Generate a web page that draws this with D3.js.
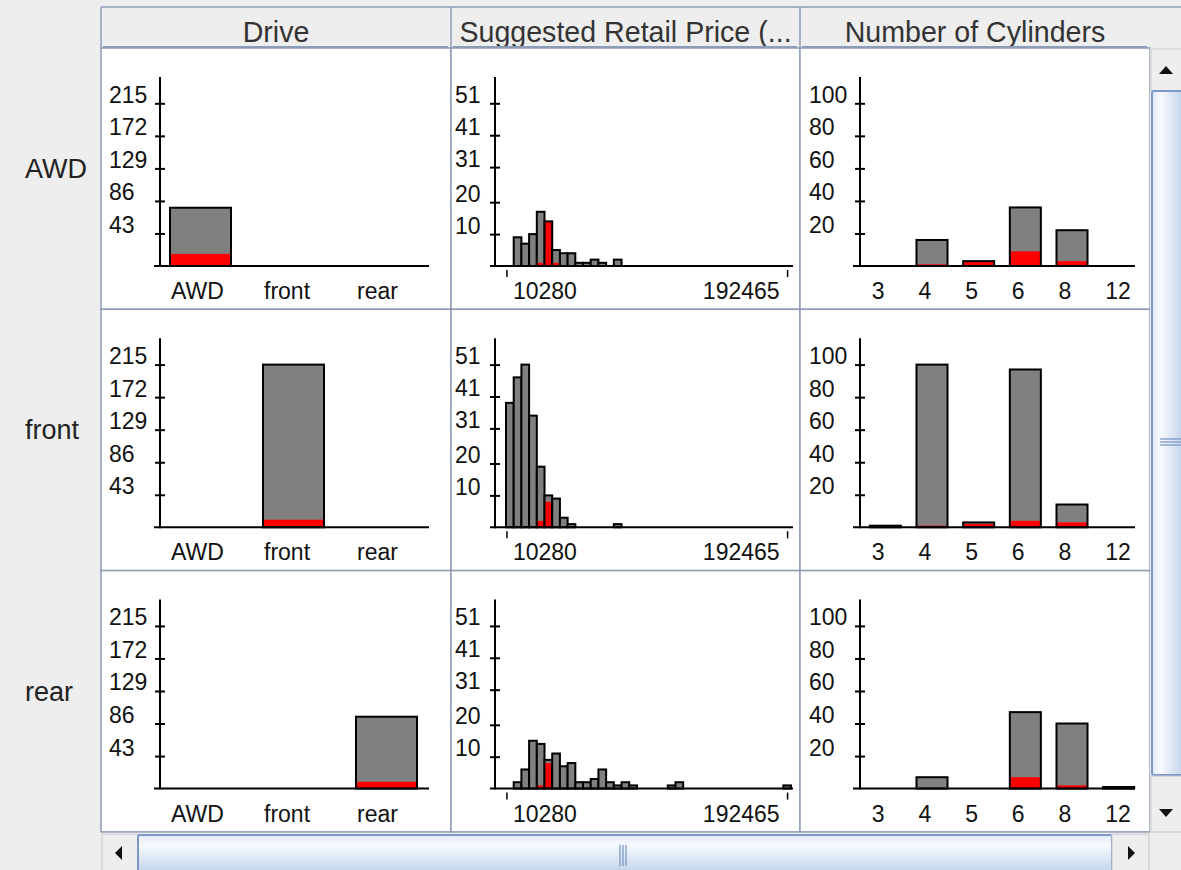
<!DOCTYPE html>
<html><head><meta charset="utf-8">
<script src="https://cdn.jsdelivr.net/npm/d3@7"></script>
<style>body{margin:0;background:#eeeeee;} svg{display:block;font-family:"Liberation Sans",Arial,sans-serif;}</style>
</head><body><svg id="c" width="1181" height="870"></svg>
<script>
// ---------------- data ----------------
const rowNames = ["AWD", "front", "rear"];
const columnTitles = ["Drive", "Suggested Retail Price (...", "Number of Cylinders"];

const driveCats = ["AWD", "front", "rear"];
const driveTotals = [77, 215, 95];
const driveRed = [16, 10, 9];
const driveYTicks = [43, 86, 129, 172, 215];
const driveYMax = 215;

const priceYTicks = [10, 20, 31, 41, 51];
const priceYMax = 51;
const priceXTicks = [10280, 192465];
const priceBinLow = 10000;
const priceBinWidth = 5000;
const priceAWD      = [0,9,7,10,17,14,5,4,4,1,1,2,1,0,2,0,0,0,0,0,0,0,0,0,0,0,0,0,0,0,0,0,0,0,0,0,0];
const priceAWDRed   = [0,0,0,0,1,14,1,0,0,0,0,0,0,0,0,0,0,0,0,0,0,0,0,0,0,0,0,0,0,0,0,0,0,0,0,0,0];
const priceFront    = [39,47,51,35,19,10,9,3,1,0,0,0,0,0,1,0,0,0,0,0,0,0,0,0,0,0,0,0,0,0,0,0,0,0,0,0,0];
const priceFrontRed = [0,0,0,0,2,8,0,0,0,0,0,0,0,0,0,0,0,0,0,0,0,0,0,0,0,0,0,0,0,0,0,0,0,0,0,0,0];
const priceRear     = [0,2,6,15,14,9,11,7,8,2,2,3,6,2,1,2,1,0,0,0,0,1,2,0,0,0,0,0,0,0,0,0,0,0,0,0,1];
const priceRearRed  = [0,0,0,0,1,8,0,0,0,0,0,0,0,0,0,0,0,0,0,0,0,0,0,0,0,0,0,0,0,0,0,0,0,0,0,0,0];

const cylCats = ["3", "4", "5", "6", "8", "12"];
const cylYTicks = [20, 40, 60, 80, 100];
const cylYMax = 100;
const cylAWD      = [0, 16, 3, 36, 22, 0];
const cylAWDRed   = [0, 1, 3, 9, 3, 0];
const cylFront    = [1, 100, 3, 97, 14, 0];
const cylFrontRed = [0, 1, 2, 4, 3, 0];
const cylRear     = [0, 7, 0, 47, 40, 1];
const cylRearRed  = [0, 0, 0, 7, 2, 0];

const priceRows = [[priceAWD, priceAWDRed], [priceFront, priceFrontRed], [priceRear, priceRearRed]];
const cylRows = [[cylAWD, cylAWDRed], [cylFront, cylFrontRed], [cylRear, cylRearRed]];

// ---------------- layout ----------------
const W = 1181, H = 870;
const colX = [101, 451, 800, 1150];
const headerTop = 7, headerBottom = 48, rowH = 261.3;
const gridColor = "#8d9cb6";
const svg = d3.select("#c");

const defs = svg.append("defs");
const gv = defs.append("linearGradient").attr("id", "gv").attr("x1", 0).attr("x2", 1).attr("y1", 0).attr("y2", 0);
gv.append("stop").attr("offset", "0").attr("stop-color", "#dfe9f5");
gv.append("stop").attr("offset", "0.25").attr("stop-color", "#f7faff");
gv.append("stop").attr("offset", "1").attr("stop-color", "#bccfe6");
const gh = defs.append("linearGradient").attr("id", "gh").attr("x1", 0).attr("x2", 0).attr("y1", 0).attr("y2", 1);
gh.append("stop").attr("offset", "0").attr("stop-color", "#dfe9f5");
gh.append("stop").attr("offset", "0.25").attr("stop-color", "#f7faff");
gh.append("stop").attr("offset", "1").attr("stop-color", "#bccfe6");

svg.append("rect").attr("width", W).attr("height", H).attr("fill", "#eeeeee");

// header
svg.append("line").attr("x1", colX[0]).attr("x2", W).attr("y1", headerTop).attr("y2", headerTop)
  .attr("stroke", gridColor).attr("stroke-width", 1.5);
svg.append("line").attr("x1", colX[0]).attr("x2", colX[0]).attr("y1", headerTop).attr("y2", headerBottom)
  .attr("stroke", gridColor).attr("stroke-width", 1.5);
columnTitles.forEach((t, c) => {
  svg.append("text").attr("x", (colX[c] + colX[c + 1]) / 2).attr("y", 42).attr("text-anchor", "middle")
    .attr("font-size", 28.6).attr("fill", "#333").text(t);
  if (c > 0) svg.append("line").attr("x1", colX[c]).attr("x2", colX[c]).attr("y1", headerTop).attr("y2", headerBottom)
    .attr("stroke", gridColor).attr("stroke-width", 1.5);
  svg.append("line").attr("x1", colX[c] + 2).attr("x2", colX[c + 1] - 3).attr("y1", headerBottom - 1).attr("y2", headerBottom - 1)
    .attr("stroke", gridColor).attr("stroke-width", 2);
});

// cells
for (let r = 0; r < 3; r++) {
  for (let c = 0; c < 3; c++) {
    svg.append("rect").attr("x", colX[c]).attr("y", headerBottom + r * rowH)
      .attr("width", colX[c + 1] - colX[c]).attr("height", rowH)
      .attr("fill", "#ffffff").attr("stroke", gridColor).attr("stroke-width", 1.5);
  }
  svg.append("text").attr("x", 25).attr("y", headerBottom + r * rowH + 130).attr("font-size", 27)
    .attr("fill", "#222").text(rowNames[r]);
}

// ---------------- helpers ----------------
function drawBar(g, x, w, yBase, yTop, yRed) {
  if (yTop >= yBase) return;
  g.append("rect").attr("x", x).attr("y", yTop).attr("width", w).attr("height", yBase - yTop).attr("fill", "#808080");
  if (yRed < yBase) g.append("rect").attr("x", x).attr("y", yRed).attr("width", w).attr("height", yBase - yRed).attr("fill", "#ff0000");
  g.append("rect").attr("x", x).attr("y", yTop).attr("width", w).attr("height", yBase - yTop)
    .attr("fill", "none").attr("stroke", "#000").attr("stroke-width", 2);
}

function yAxis(g, y, ticks, axisX, labelX, top, base) {
  const ax = g.append("g").attr("transform", `translate(${axisX},0)`)
    .call(d3.axisLeft(y).tickValues(ticks).tickSize(5).tickPadding(0));
  ax.select(".domain").remove();
  ax.selectAll(".tick line").attr("x1", -5).attr("x2", 5).attr("stroke", "#000").attr("stroke-width", 2);
  ax.selectAll(".tick text").attr("text-anchor", "start").attr("x", labelX - axisX).attr("dy", 0).attr("y", -1)
    .attr("font-size", 23).attr("font-family", "Liberation Sans, Arial, sans-serif").attr("fill", "#111");
  g.append("line").attr("x1", axisX).attr("x2", axisX).attr("y1", top).attr("y2", base + 1)
    .attr("stroke", "#000").attr("stroke-width", 2);
}

// ---------------- panels ----------------
for (let r = 0; r < 3; r++) {
  const rowTop = headerBottom + r * rowH;
  const base = rowTop + 218, top = rowTop + 29, tickTop = base - 162.7;

  // Drive
  {
    const g = svg.append("g");
    const x0 = colX[0];
    const x = d3.scaleBand().domain(driveCats).range([x0 + 53, x0 + 332]).paddingInner(0.344).paddingOuter(0.172);
    const y = d3.scaleLinear().domain([0, driveYMax]).range([base, tickTop]);
    driveCats.forEach((cat, i) => {
      const v = i === r ? driveTotals[i] : 0;
      const red = i === r ? driveRed[i] : 0;
      drawBar(g, x(cat), x.bandwidth(), base, y(v), y(red));
    });
    yAxis(g, y, driveYTicks, x0 + 59, x0 + 8, top, base);
    g.append("line").attr("x1", x0 + 53).attr("x2", x0 + 328).attr("y1", base).attr("y2", base).attr("stroke", "#000").attr("stroke-width", 2);
    const xa = g.append("g").attr("transform", `translate(0,${base})`).call(d3.axisBottom(x).tickSize(0).tickPadding(0));
    xa.select(".domain").remove();
    xa.selectAll(".tick text").attr("text-anchor", "start").attr("x", -x.bandwidth() / 2 + 1).attr("y", 33).attr("dy", 0)
      .attr("font-size", 23).attr("font-family", "Liberation Sans, Arial, sans-serif").attr("fill", "#111");
  }

  // Price histogram
  {
    const g = svg.append("g");
    const x0 = colX[1];
    const [vals, reds] = priceRows[r];
    const nb = vals.length;
    const x = d3.scaleLinear().domain([priceBinLow, priceBinLow + nb * priceBinWidth]).range([x0 + 55, x0 + 340]);
    const y = d3.scaleLinear().domain([0, priceYMax]).range([base, tickTop]);
    vals.forEach((v, i) => {
      const lo = priceBinLow + i * priceBinWidth;
      drawBar(g, x(lo), x(lo + priceBinWidth) - x(lo), base, y(v), y(reds[i]));
    });
    yAxis(g, y, priceYTicks, x0 + 44, x0 + 4, top, base);
    g.append("line").attr("x1", x0 + 39).attr("x2", x0 + 342).attr("y1", base).attr("y2", base).attr("stroke", "#000").attr("stroke-width", 2);
    const xa = g.append("g").attr("transform", `translate(0,${base})`).call(d3.axisBottom(x).tickValues(priceXTicks).tickSize(10).tickPadding(0));
    xa.select(".domain").remove();
    xa.selectAll(".tick line").attr("y1", 4).attr("y2", 11).attr("stroke", "#000").attr("stroke-width", 1.5);
    xa.selectAll(".tick text").attr("text-anchor", (d, i) => i === 0 ? "start" : "end").attr("x", (d, i) => i === 0 ? 6 : -8)
      .attr("y", 33).attr("dy", 0).attr("font-size", 23).attr("font-family", "Liberation Sans, Arial, sans-serif").attr("fill", "#111")
      .text(d => String(d));
  }

  // Cylinders
  {
    const g = svg.append("g");
    const x0 = colX[2];
    const [vals, reds] = cylRows[r];
    const x = d3.scaleBand().domain(cylCats).range([x0 + 62, x0 + 342]).paddingInner(0.335).paddingOuter(0.1675);
    const y = d3.scaleLinear().domain([0, cylYMax]).range([base, tickTop]);
    cylCats.forEach((cat, i) => drawBar(g, x(cat), x.bandwidth(), base, y(vals[i]), y(reds[i])));
    yAxis(g, y, cylYTicks, x0 + 60, x0 + 9, top, base);
    g.append("line").attr("x1", x0 + 53).attr("x2", x0 + 335).attr("y1", base).attr("y2", base).attr("stroke", "#000").attr("stroke-width", 2);
    const xa = g.append("g").attr("transform", `translate(0,${base})`).call(d3.axisBottom(x).tickSize(0).tickPadding(0));
    xa.select(".domain").remove();
    xa.selectAll(".tick text").attr("text-anchor", "start").attr("x", -x.bandwidth() / 2 + 2).attr("y", 33).attr("dy", 0)
      .attr("font-size", 23).attr("font-family", "Liberation Sans, Arial, sans-serif").attr("fill", "#111");
  }
}

// ---------------- scrollbars ----------------
const sbStroke = "#7b98c8";
// vertical
svg.append("rect").attr("x", 1150).attr("y", 48).attr("width", 31).attr("height", 785).attr("fill", "#eeeeee");
svg.append("rect").attr("x", 1151).attr("y", 49).attr("width", 34).attr("height", 42).attr("fill", "#eeeeee").attr("stroke", "#c8c8c8");
svg.append("path").attr("d", "M1159,74 L1173,74 L1166,66 Z").attr("fill", "#111");
svg.append("rect").attr("x", 1152).attr("y", 91).attr("width", 34).attr("height", 684).attr("rx", 2)
  .attr("fill", "url(#gv)").attr("stroke", sbStroke).attr("stroke-width", 2);
[439, 442, 445].forEach(yy => svg.append("line").attr("x1", 1160).attr("x2", 1181).attr("y1", yy).attr("y2", yy).attr("stroke", sbStroke).attr("stroke-width", 1.3));
svg.append("rect").attr("x", 1151).attr("y", 776).attr("width", 34).attr("height", 56).attr("fill", "#eeeeee").attr("stroke", "#c8c8c8");
svg.append("path").attr("d", "M1159,809 L1173,809 L1166,817 Z").attr("fill", "#111");
// horizontal
svg.append("rect").attr("x", 101).attr("y", 833).attr("width", 1049).attr("height", 37).attr("fill", "#eeeeee");
svg.append("rect").attr("x", 102).attr("y", 834).attr("width", 36).attr("height", 40).attr("fill", "#eeeeee").attr("stroke", "#c8c8c8");
svg.append("path").attr("d", "M122,846 L122,860 L115,853 Z").attr("fill", "#111");
svg.append("rect").attr("x", 138).attr("y", 835).attr("width", 974).attr("height", 40).attr("rx", 2)
  .attr("fill", "url(#gh)").attr("stroke", sbStroke).attr("stroke-width", 2);
[620, 623, 626].forEach(xx => svg.append("line").attr("x1", xx).attr("x2", xx).attr("y1", 845).attr("y2", 866).attr("stroke", sbStroke).attr("stroke-width", 1.3));
svg.append("rect").attr("x", 1112).attr("y", 834).attr("width", 37).attr("height", 40).attr("fill", "#eeeeee").attr("stroke", "#c8c8c8");
svg.append("path").attr("d", "M1128,846 L1128,860 L1135,853 Z").attr("fill", "#111");
</script></body></html>
